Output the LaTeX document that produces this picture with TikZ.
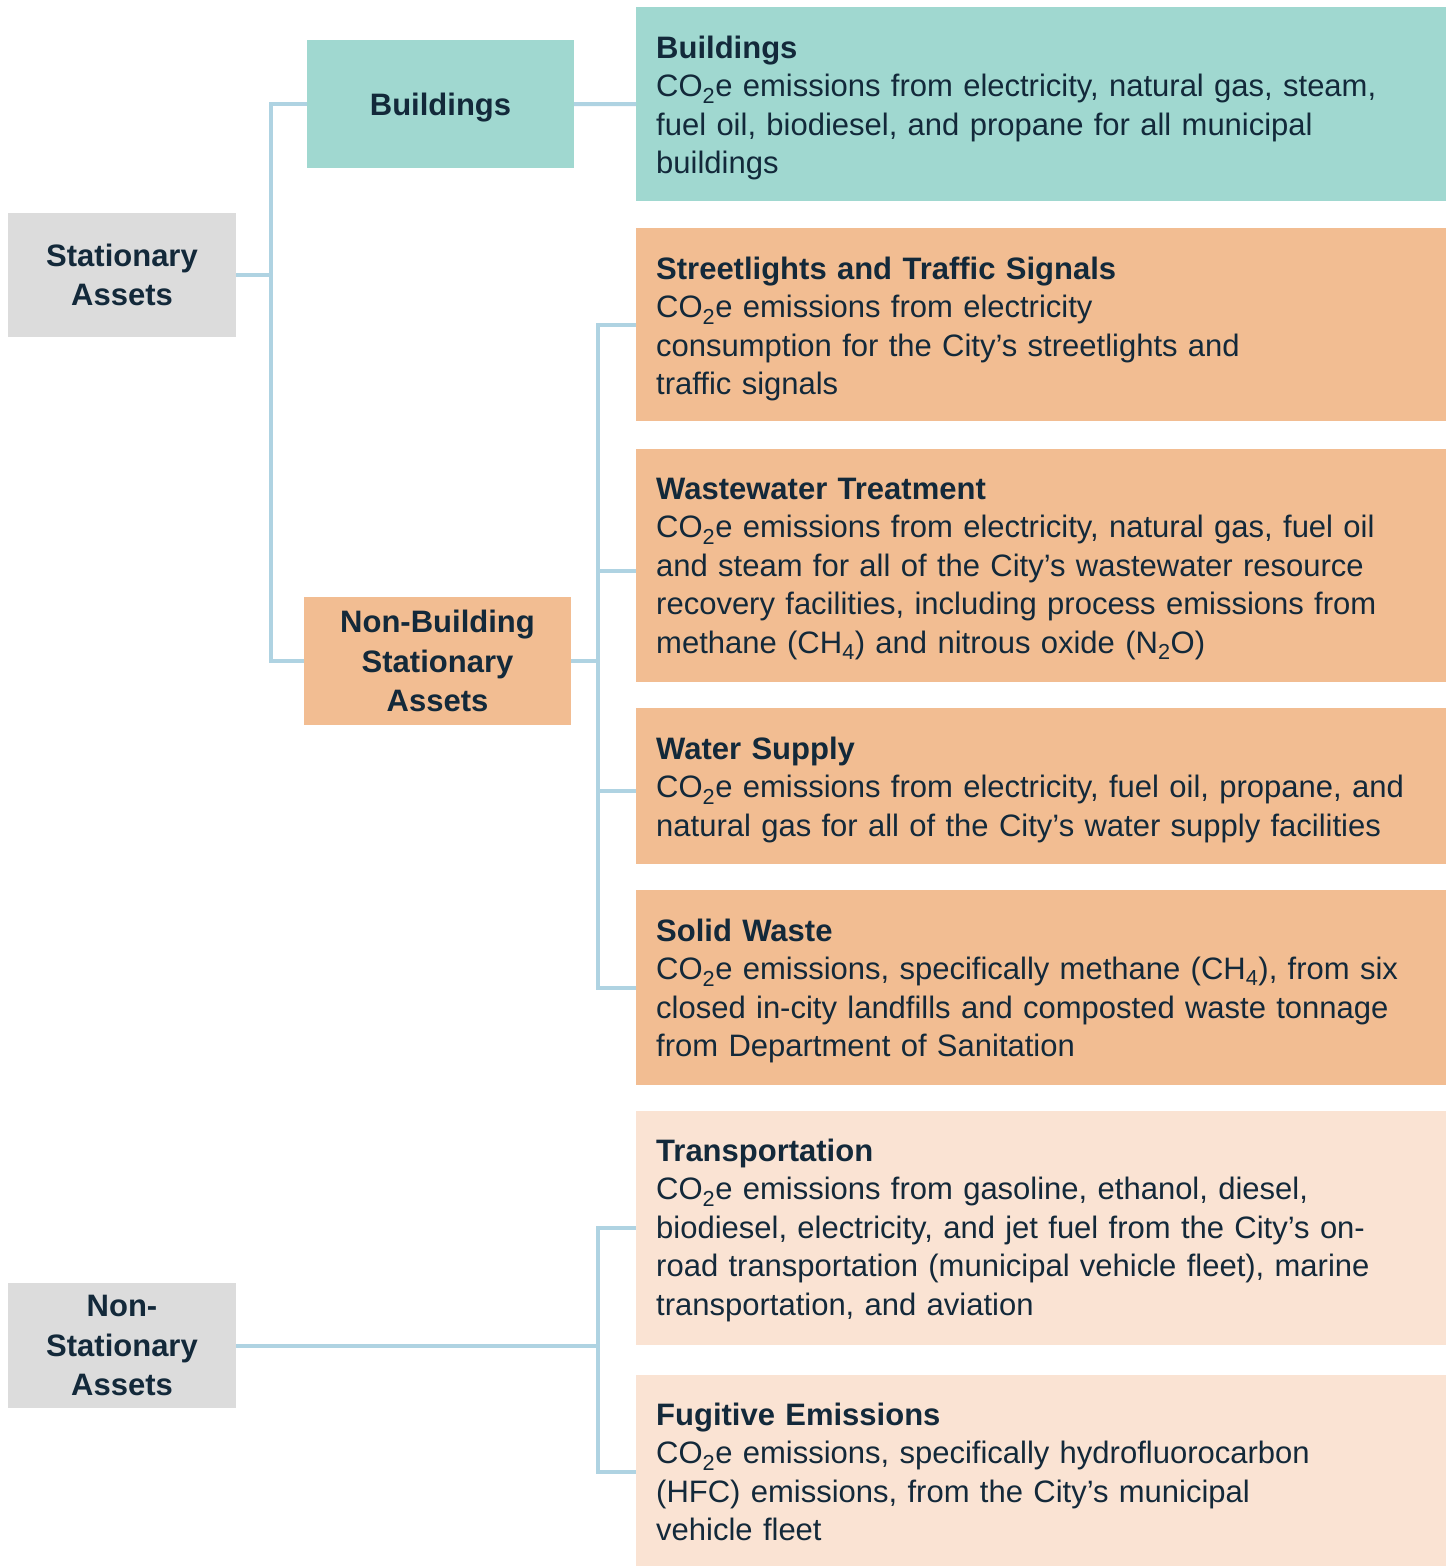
\documentclass[tikz,border=0pt]{standalone}
\usepackage{fontspec}
\setmainfont{Liberation Sans}
\definecolor{txt}{HTML}{13293A}
\definecolor{grayb}{HTML}{DCDCDC}
\definecolor{tealb}{HTML}{A0D8D0}
\definecolor{orangeb}{HTML}{F2BD92}
\definecolor{peachb}{HTML}{FAE3D3}
\definecolor{conncol}{HTML}{AFD3E2}
\tikzset{
  box/.style={draw=none, inner sep=0pt, text=txt, align=center,
    font=\fontsize{31}{39.5}\selectfont\bfseries},
  rbox/.style={draw=none, inner sep=0pt, minimum width=810pt, anchor=north west},
  desc/.style={inner sep=0pt, anchor=base west, text=txt, align=left, text width=790pt,
    font=\fontsize{31}{38.5}\selectfont},
  conn/.style={draw=conncol, line width=4pt}
}
\newcommand{\ttl}[1]{\textbf{#1}}
\begin{document}
\begin{tikzpicture}[x=1pt,y=-1pt]
\useasboundingbox (0,0) rectangle (1452,1566);
% left boxes
\node[box, fill=grayb, minimum width=228pt, minimum height=124pt] (sa) at (122,275) {Stationary\\Assets};
\node[box, fill=grayb, minimum width=228pt, minimum height=125pt] (ns) at (122,1345.5) {Non-\\Stationary\\Assets};
% middle boxes
\node[box, fill=tealb, minimum width=267pt, minimum height=128pt, text height=22pt, text depth=0pt] (bm) at (440.5,104) {Buildings};
\node[box, fill=orangeb, minimum width=267pt, minimum height=128pt] (nb) at (437.5,661) {Non-Building\\Stationary\\Assets};
% right boxes
\node[rbox, fill=tealb, minimum height=194pt] (rb) at (636,7) {};
\node[rbox, fill=orangeb, minimum height=193pt] (sl) at (636,228) {};
\node[rbox, fill=orangeb, minimum height=233pt] (ww) at (636,449) {};
\node[rbox, fill=orangeb, minimum height=156pt] (ws) at (636,708) {};
\node[rbox, fill=orangeb, minimum height=195pt] (sw) at (636,890) {};
\node[rbox, fill=peachb, minimum height=234pt] (tr) at (636,1111) {};
\node[rbox, fill=peachb, minimum height=191pt] (fe) at (636,1375) {};
% texts
\node[desc] (rbt) at (656,58) {\ttl{Buildings}\\CO\textsubscript{2}e emissions from electricity, natural gas, steam,\\fuel oil, biodiesel, and propane for all municipal\\buildings};
\node[desc] (slt) at (656,279) {\ttl{Streetlights and Traffic Signals}\\CO\textsubscript{2}e emissions from electricity\\consumption for the City’s streetlights and\\traffic signals};
\node[desc] (wwt) at (656,499) {\ttl{Wastewater Treatment}\\CO\textsubscript{2}e emissions from electricity, natural gas, fuel oil\\and steam for all of the City’s wastewater resource\\recovery facilities, including process emissions from\\methane (CH\textsubscript{4}) and nitrous oxide (N\textsubscript{2}O)};
\node[desc] (wst) at (656,759) {\ttl{Water Supply}\\CO\textsubscript{2}e emissions from electricity, fuel oil, propane, and\\natural gas for all of the City’s water supply facilities};
\node[desc] (swt) at (656,941) {\ttl{Solid Waste}\\CO\textsubscript{2}e emissions, specifically methane (CH\textsubscript{4}), from six\\closed in-city landfills and composted waste tonnage\\from Department of Sanitation};
\node[desc] (trt) at (656,1161) {\ttl{Transportation}\\CO\textsubscript{2}e emissions from gasoline, ethanol, diesel,\\biodiesel, electricity, and jet fuel from the City’s on-\\road transportation (municipal vehicle fleet), marine\\transportation, and aviation};
\node[desc] (fet) at (656,1425) {\ttl{Fugitive Emissions}\\CO\textsubscript{2}e emissions, specifically hydrofluorocarbon\\(HFC) emissions, from the City’s municipal\\vehicle fleet};
% junctions
\coordinate (jA) at (271,275);
\coordinate (jB) at (598,661);
\coordinate (jC) at (598,1345.5);
% connectors
\draw[conn] (sa.east) -- (jA);
\draw[conn] (jA) |- (bm.west);
\draw[conn] (jA) |- (nb.west);
\draw[conn] (bm.east) -- (rb.west);
\draw[conn] (nb.east) -- (jB);
\draw[conn] (jB) |- (sl.west);
\draw[conn] (jB) |- ([yshift=-5.5pt]ww.west);
\draw[conn] (jB) |- ([yshift=-5pt]ws.west);
\draw[conn] (jB) |- (sw.west);
\draw[conn] (ns.east) -- (jC);
\draw[conn] (jC) |- (tr.west);
\draw[conn] (jC) |- ([yshift=-1.5pt]fe.west);
\end{tikzpicture}
\end{document}
